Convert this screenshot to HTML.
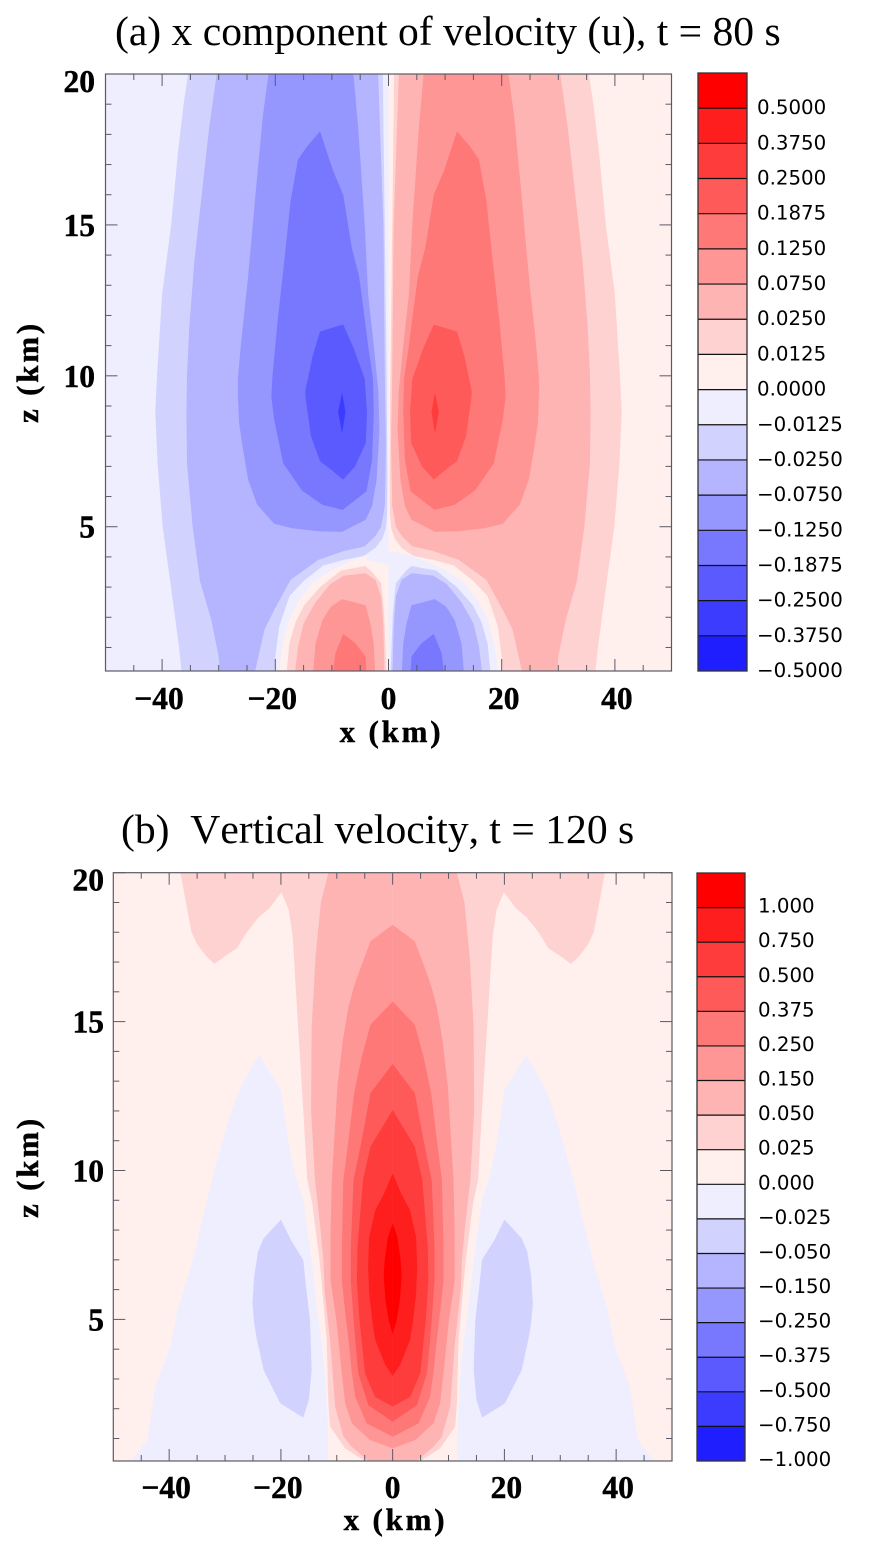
<!DOCTYPE html>
<html lang="en">
<head>
<meta charset="utf-8">
<title>Velocity contour panels</title>
<style>
html,body{margin:0;padding:0;background:#fff;width:870px;height:1552px;overflow:hidden}
svg{display:block}
.title{font-family:"Liberation Serif",serif;font-size:41.6px;fill:#000;white-space:pre;font-kerning:none}
.tick{font-family:"Liberation Serif",serif;font-weight:bold;font-size:31.5px;fill:#000;stroke:#000;stroke-width:.45px}
.axt{font-family:"Liberation Serif",serif;font-weight:bold;font-size:31px;fill:#000;stroke:#000;stroke-width:.45px;letter-spacing:2.8px;font-kerning:none}
.cbl{font-family:"DejaVu Sans",sans-serif;font-size:19.8px;fill:#000}
</style>
</head>
<body>
<svg id="fig" width="870" height="1552" viewBox="0 0 870 1552">
  <defs>
    <clipPath id="clipA"><rect x="105.5" y="74" width="566" height="597"/></clipPath>
    <clipPath id="clipB"><rect x="113.3" y="872.7" width="558.7" height="588.3"/></clipPath>
  </defs>
  <rect x="0" y="0" width="870" height="1552" fill="#fff"/>
  <g id="panelA">
    <text class="title" x="115" y="45">(a) x component of velocity (u), t = 80 s</text>
    <g id="fillsA" clip-path="url(#clipA)"></g>
    <g id="axesA"></g>
    <text class="axt" x="391.5" y="742" text-anchor="middle">x (km)</text>
    <text class="axt" transform="translate(38 372) rotate(-90)" text-anchor="middle">z (km)</text>
    <g id="barA"></g>
  </g>
  <g id="panelB">
    <text class="title" x="121" y="843">(b)  Vertical velocity, t = 120 s</text>
    <g id="fillsB" clip-path="url(#clipB)"></g>
    <g id="axesB"></g>
    <text class="axt" x="395.5" y="1530" text-anchor="middle">x (km)</text>
    <text class="axt" transform="translate(38 1167) rotate(-90)" text-anchor="middle">z (km)</text>
    <g id="barB"></g>
  </g>
</svg>
<script>
// ---- Axis tick values and colour bar labels ----
const xTickMajor = [-40, -20, 0, 20, 40];
const xTickMinor = [-45, -35, -30, -25, -15, -10, -5, 5, 10, 15, 25, 30, 35, 45];
const zTickMajor = [5, 10, 15, 20];
const zTickMinor = [1, 2, 3, 4, 6, 7, 8, 9, 11, 12, 13, 14, 16, 17, 18, 19];
const uBarLabels = ["0.5000","0.3750","0.2500","0.1875","0.1250","0.0750","0.0250","0.0125","0.0000","\u22120.0125","\u22120.0250","\u22120.0750","\u22120.1250","\u22120.1875","\u22120.2500","\u22120.3750","\u22120.5000"];
const wBarLabels = ["1.000","0.750","0.500","0.375","0.250","0.150","0.050","0.025","0.000","\u22120.025","\u22120.050","\u22120.150","\u22120.250","\u22120.375","\u22120.500","\u22120.750","\u22121.000"];

// ---- Panel (a): contours of u for x > 0, as [x km, z km]. The x < 0 side has the opposite sign. ----
const uPos0125 = [[1,20],[35.4,20],[36.2,19],[37.2,17.4],[38.4,15],[40,12.7],[40.9,10],[41.2,8.8],[40.8,7.1],[39.9,5],[38.6,3.24],[37,1],[36.55,.2],[20.2,.2],[20,.7],[19.3,1.7],[17.5,2.7],[15,3.2],[11.5,3.72],[7.9,3.9],[4.4,4.03],[2.3,4.3],[1.1,4.6],[.47,4.95],[.24,5.45],[.2,6.6],[.33,10]];
const uPos0250 = [[1.83,20],[30.35,20],[31.7,18.2],[33,16],[34.3,13.8],[35.2,11.6],[35.6,10],[35.7,8.8],[35.6,7.1],[34.6,5],[33.3,3.2],[31.3,1.9],[30,.7],[29.8,.2],[23.6,.2],[21.9,1.6],[20.2,2.24],[17.3,3.24],[12.4,3.9],[7.8,4.2],[4.2,4.35],[2.3,4.7],[1.3,5],[.65,5.7],[.45,7.7],[.65,10],[.9,15]];
const uPos0750 = [[6.2,20],[21.2,20],[22.2,18.6],[23.5,16],[24.8,13.3],[26.1,11],[26.6,9.9],[26.6,9.33],[26.4,8.44],[25.8,7.67],[24.8,6.56],[23.2,5.73],[20.2,5.1],[17,4.95],[12.4,4.85],[8.2,4.83],[4.05,5.23],[2.9,5.68],[2.1,6.56],[1.6,8.2],[1.8,9.5],[2.6,11],[3.6,12.7],[4.2,15],[5.35,18.2]];
const uPos1250 = [[12.1,18.1],[14.4,17.6],[16,17.16],[17.3,15.8],[18.3,14],[19.6,11.8],[20.5,10],[20.7,9.3],[20.2,8.55],[18.6,7.1],[15.3,6.2],[11.7,5.73],[8.1,5.56],[3.9,6.17],[2.9,7.2],[2.6,8.8],[2.74,9.9],[3.6,11],[4.2,11.9],[5.2,13.3],[6.5,14.25],[8,16],[9.8,16.8]];
const uPos1875 = [[8,11.7],[12.1,11.47],[13.4,10.66],[14.7,9.5],[14.7,9.33],[13.7,8],[12.1,7.17],[10.2,6.9],[8,6.56],[5.9,7],[4,7.78],[3.8,8.8],[4.2,9.9],[6.2,10.94]];
const uPos2500 = [[8.2,9.44],[8.9,8.8],[8.2,8.1],[7.6,8.8]];
const uNeg0000 = [[0,.2],[19.3,.2],[18.8,1.02],[17.6,1.9],[15.8,2.57],[13.2,3.18],[9.66,3.6],[6.7,3.85],[3.8,4.05],[.1,4.2],[0,4.2]];
const uNeg0125 = [[.35,.2],[18,.2],[17.5,1.14],[16.4,1.85],[14.9,2.4],[12.1,3],[8.4,3.55],[4.06,3.7],[2.9,3.5],[1.3,3.13],[.8,2.24],[.5,.9]];
const uNeg0250 = [[.7,.2],[16.5,.2],[16,1.02],[15,1.8],[12.9,2.5],[10.3,3.1],[7.9,3.38],[4.06,3.46],[2.3,3.24],[1.3,2.69],[.94,1.8],[.8,.9]];
const uNeg0750 = [[2.36,.2],[13.3,.2],[12.9,1.13],[11.7,1.9],[10.2,2.35],[8.2,2.6],[4.06,2.4],[3.2,1.8],[2.6,1.13]];
const uNeg1250 = [[3.9,.2],[9.8,.2],[9.4,.8],[8,1.45],[5.8,1.13],[4.06,.7]];
const uSaddle = [[0,4.3],[-3.8,4.1],[-3.9,3.9],[0,3.74]];

// ---- Panel (b): contours of w for x > 0, as [x km, z km]. The field is symmetric about x = 0. ----
const wNeg000 = [[11.5,.245],[46.8,.245],[43.9,.95],[42.5,2.74],[39.8,4.1],[38.5,5.3],[35.8,7],[33.5,8.8],[31.9,10],[29.5,11.6],[27.9,12.5],[25.8,13.3],[23.9,13.88],[20,12.7],[18.6,10.9],[17.5,9.9],[16,9],[14.5,7],[13.3,5],[12.7,4.3],[12.2,3.3],[11.6,1.5]];
const wNeg025 = [[20,8.35],[23.1,7.72],[24.1,7.27],[24.8,6.43],[25.1,5.54],[24.8,4.9],[24.4,4.42],[23.1,3.3],[20.1,2.18],[16,1.7],[15,2.3],[14.5,3.3],[14.8,5],[15.5,6.1],[16,7],[18.2,7.66]];
const wPos025 = [[0,20],[38,20],[37,19],[36,18],[35,17.6],[33.4,17.2],[31.9,16.94],[29.7,17.24],[27.9,17.46],[26.1,18],[24,18.5],[22.1,18.8],[19.9,19.34],[18.6,18.75],[17.9,17.86],[17,15.06],[16,12.03],[15.3,9.7],[14.4,8.9],[13.1,7],[12.5,5.8],[11.8,4.3],[11.5,2.18],[11.2,1.4],[8.5,.67],[5,.245],[0,.245]];
const wPos050 = [[0,20],[11.5,20],[12.85,19],[13.8,17.2],[14.5,14.8],[14.6,12],[13.9,9.67],[13,8.2],[12.4,7],[12.2,6],[11.2,4.3],[10.74,3.19],[10.3,2.07],[8.8,1.06],[7.3,.72],[4.3,.245],[0,.245]];
const wPos150 = [[0,18.25],[3.97,17.7],[5.56,16.9],[6.9,16.2],[7.9,15.5],[8.9,14.4],[9.9,12.8],[10.5,10.9],[10.9,9.67],[11.1,8],[11.1,6.3],[10.1,5],[9.7,4.3],[9.1,3.19],[8.5,2.18],[7.3,1.51],[4.06,.95],[0,.67]];
const wPos250 = [[0,15.67],[3.97,14.9],[5.56,13.8],[6.9,12.6],[8,10.9],[8.83,9.67],[9.1,7.4],[9.1,6.3],[8.35,5],[7.9,4.3],[7.3,3.19],[6.7,2.4],[4.65,1.51],[0,1.06]];
const wPos375 = [[0,13.58],[3.97,12.6],[5.56,11],[7,9.67],[7.5,7.4],[7.5,6.3],[7,5],[6.7,4.3],[6.15,3.19],[4.36,2.12],[0,1.565]];
const wPos500 = [[0,12.03],[3.97,10.8],[5.3,9.7],[6.3,7.4],[6.4,6.3],[5.95,5],[5.55,4.3],[4.95,3.19],[3.16,2.4],[0,2.07]];
const wPos750 = [[0,9.9],[1.6,9.2],[3.1,8.67],[4.2,7.77],[4.4,6.77],[4.2,5.87],[3.6,4.87],[3.1,4.3],[1.4,3.5],[0,3.1]];
const wPos1000 = [[0,8.22],[.84,7.77],[1.43,6.99],[1.6,6.43],[1.3,5.65],[.72,4.98],[0,4.5]];

// ---- Shared colour table: colour-bar order, top to bottom ----
const bandColors = ['#ff0000','#ff1e1e','#ff3c3c','#ff5a5a','#ff7878','#ff9696','#ffb4b4','#ffd2d2','#fff0ee','#eeeeff','#d2d2ff','#b4b4ff','#9696ff','#7878ff','#5a5aff','#3c3cff','#1e1eff'];

const svgEl = document.getElementById('fig');
const ns = svgEl.namespaceURI;
function make(tag, parent) {
  const n = document.createElementNS(ns, tag);
  parent.appendChild(n);
  return n;
}
function linearScale(d0, d1, r0, r1) {
  return function (v) { return r0 + (v - d0) * (r1 - r0) / (d1 - d0); };
}
function polyPoints(pts, sx, sz, sign) {
  return pts.map(function (p) { return sx(sign * p[0]).toFixed(2) + ',' + sz(p[1]).toFixed(2); }).join(' ');
}
function drawContour(parent, pts, colorIndex, sx, sz, sign) {
  const poly = make('polygon', parent);
  
  
  poly.setAttribute('points', polyPoints(pts, sx, sz, sign));
  poly.setAttribute('fill', bandColors[colorIndex]);
}
function drawBase(parent, x0, x1, y0, y1, colorIndex) {
  const r = make('rect', parent);
  
  
  r.setAttribute('x', x0);
  r.setAttribute('y', y0);
  r.setAttribute('width', x1 - x0);
  r.setAttribute('height', y1 - y0);
  r.setAttribute('fill', bandColors[colorIndex]);
}
function tickLine(parent, x1, y1, x2, y2, w) {
  const l = make('line', parent);
  
  
  l.setAttribute('x1', x1);
  l.setAttribute('y1', y1);
  l.setAttribute('x2', x2);
  l.setAttribute('y2', y2);
  l.setAttribute('stroke', '#5a5a66');
  l.setAttribute('stroke-width', w);
}
function drawAxes(parent, sx, sz, box, xLabelY, zLabelX) {
  const frame = make('rect', parent);
  
  
  frame.setAttribute('x', box.l);
  frame.setAttribute('y', box.t);
  frame.setAttribute('width', box.r - box.l);
  frame.setAttribute('height', box.b - box.t);
  frame.setAttribute('fill', 'none');
  frame.setAttribute('stroke', '#5a5a66');
  frame.setAttribute('stroke-width', '1.2');
  xTickMinor.forEach(function (v) {
    tickLine(parent, sx(v), box.b, sx(v), box.b - 6, 1);
    tickLine(parent, sx(v), box.t, sx(v), box.t + 6, 1);
  });
  xTickMajor.forEach(function (v) {
    tickLine(parent, sx(v), box.b, sx(v), box.b - 12, 1);
    tickLine(parent, sx(v), box.t, sx(v), box.t + 12, 1);
    const t = make('text', parent);
    
    
    t.setAttribute('class', 'tick');
    t.setAttribute('x', sx(v) + (v < 0 ? -3 : (v > 0 ? 2 : 0)));
    t.setAttribute('y', xLabelY);
    t.setAttribute('text-anchor', 'middle');
    t.textContent = (v < 0 ? '\u2212' : '') + Math.abs(v);
  });
  zTickMinor.forEach(function (v) {
    tickLine(parent, box.l, sz(v), box.l + 6, sz(v), 1);
    tickLine(parent, box.r, sz(v), box.r - 6, sz(v), 1);
  });
  const zTop = Math.max.apply(null, zTickMajor);
  zTickMajor.forEach(function (v) {
    tickLine(parent, box.l, sz(v), box.l + 12, sz(v), 1);
    tickLine(parent, box.r, sz(v), box.r - 12, sz(v), 1);
    const t = make('text', parent);
    
    
    t.setAttribute('class', 'tick');
    t.setAttribute('x', zLabelX);
    t.setAttribute('y', sz(v) + (v === zTop ? 18 : 11));
    t.setAttribute('text-anchor', 'end');
    t.textContent = String(v);
  });
}
function drawColorbar(parent, labels, box, labelX, labelOffset) {
  const n = labels.length;
  const sy = linearScale(0, n, box.t, box.b);
  labels.forEach(function (lab, i) {
    const r = make('rect', parent);
    
    
    r.setAttribute('x', box.l);
    r.setAttribute('y', sy(i));
    r.setAttribute('width', box.r - box.l);
    r.setAttribute('height', sy(i + 1) - sy(i));
    r.setAttribute('fill', bandColors[i]);
    const t = make('text', parent);
    
    
    t.setAttribute('class', 'cbl');
    t.setAttribute('x', labelX);
    t.setAttribute('y', sy(i + 1) + labelOffset);
    t.textContent = lab;
  });
  labels.slice(1).forEach(function (lab, i) {
    const l = make('line', parent);
    
    
    l.setAttribute('x1', box.l);
    l.setAttribute('x2', box.r);
    l.setAttribute('y1', sy(i + 1));
    l.setAttribute('y2', sy(i + 1));
    l.setAttribute('stroke', '#111');
    l.setAttribute('stroke-width', '1.2');
  });
  const frame = make('rect', parent);
  
  
  frame.setAttribute('x', box.l);
  frame.setAttribute('y', box.t);
  frame.setAttribute('width', box.r - box.l);
  frame.setAttribute('height', box.b - box.t);
  frame.setAttribute('fill', 'none');
  frame.setAttribute('stroke', '#333');
  frame.setAttribute('stroke-width', '1.3');
}

// ---- Panel (a) ----
(function () {
  const box = { l: 105.5, r: 671.5, t: 74, b: 671 };
  const sx = linearScale(-50, 50, box.l, box.r);
  const sz = linearScale(0.22, 20, box.b, box.t);
  const g = document.getElementById('fillsA');
  const layers = [[uPos0125, 7], [uPos0250, 6], [uPos0750, 5], [uPos1250, 4], [uPos1875, 3], [uPos2500, 2], [uNeg0000, 9], [uNeg0125, 10], [uNeg0250, 11], [uNeg0750, 12], [uNeg1250, 13]];
  drawBase(g, sx(0), box.r, box.t, box.b, 8);
  drawBase(g, box.l, sx(0), box.t, box.b, 9);
  layers.forEach(function (L) {
    drawContour(g, L[0], L[1], sx, sz, 1);
    drawContour(g, L[0], 17 - L[1], sx, sz, -1);
  });
  drawContour(g, uSaddle, 9, sx, sz, 1);
  drawAxes(document.getElementById('axesA'), sx, sz, box, 709, 95);
  drawColorbar(document.getElementById('barA'), uBarLabels, { l: 698, r: 747, t: 73, b: 671 }, 757, 6);
})();

// ---- Panel (b) ----
(function () {
  const box = { l: 113.3, r: 672, t: 872.7, b: 1461 };
  const sx = linearScale(-50, 50, box.l, box.r);
  const sz = linearScale(0.245, 20, box.b, box.t);
  const g = document.getElementById('fillsB');
  const layers = [[wNeg000, 9], [wNeg025, 10], [wPos025, 7], [wPos050, 6], [wPos150, 5], [wPos250, 4], [wPos375, 3], [wPos500, 2], [wPos750, 1], [wPos1000, 0]];
  drawBase(g, box.l, box.r, box.t, box.b, 8);
  layers.forEach(function (L) {
    drawContour(g, L[0], L[1], sx, sz, 1);
    drawContour(g, L[0], L[1], sx, sz, -1);
  });
  drawAxes(document.getElementById('axesB'), sx, sz, box, 1498, 104);
  drawColorbar(document.getElementById('barB'), wBarLabels, { l: 697, r: 745, t: 873, b: 1461 }, 758, 5);
})();
</script>
</body>
</html>
